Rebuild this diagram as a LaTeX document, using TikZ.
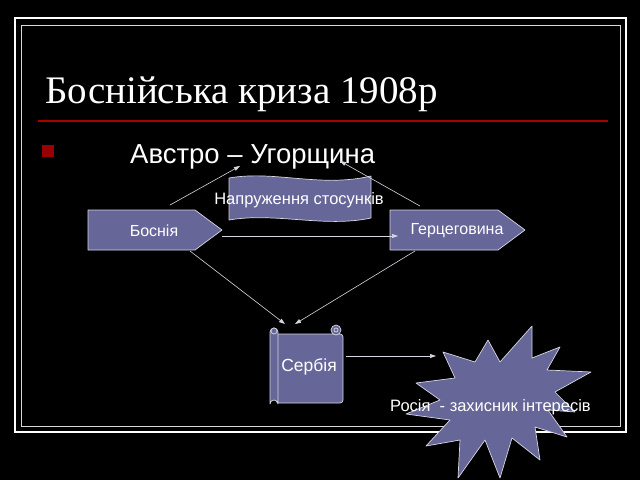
\documentclass[tikz,border=0pt]{standalone}
\usepackage{fontspec}
\setmainfont{Liberation Serif}
\newfontfamily\sansf{Liberation Sans}
\usetikzlibrary{arrows.meta}
\definecolor{shp}{RGB}{102,102,153}
\definecolor{edg}{RGB}{215,215,225}
\definecolor{redl}{RGB}{170,0,0}
\tikzset{
  box/.style={fill=shp,draw=edg,line width=0.7pt,line join=round},
  lbl/.style={text=white,font=\sansf\fontsize{16}{18}\selectfont,inner sep=0pt},
  conn/.style={draw=edg,line width=0.6pt,-{Triangle[length=6pt,width=4pt]}}
}
\begin{document}
\begin{tikzpicture}[x=1pt,y=-1pt]
\fill[black] (0,0) rectangle (640,480);
\useasboundingbox (0,0) rectangle (640,480);
% frame
\draw[white,line width=2pt] (15,18) rectangle (626,432);
\draw[white!85!black,line width=0.8pt] (21,25) rectangle (620,426);
% title
\node[anchor=base west,text=white,font=\fontsize{39}{42}\selectfont,inner sep=0pt] (title) at (45,103) {Боснійська криза 1908р};
\draw[redl,line width=1.2pt] (38,121) -- (608,121);
\fill[red!60!black] (42,145) rectangle (54,157);
\node[anchor=base west,text=white,font=\sansf\fontsize{27.5}{30}\selectfont,inner sep=0pt] (aus) at (130,163) {Австро – Угорщина};
% banner
\draw[box] (229,178) .. controls (275,170) and (320,188) .. (371,176) -- (371,218) .. controls (325,228) and (275,212) .. (229,220) -- cycle;
\node[lbl,font=\sansf\fontsize{16.5}{18}\selectfont] (nap) at (299,200) {Напруження стосунків};
% Боснія
\draw[box] (88,210) -- (195,210) -- (222,230) -- (195,250) -- (88,250) -- cycle;
\node[lbl] (bos) at (154,231) {Боснія};
% Герцеговина
\draw[box] (390,210) -- (498,210) -- (525,230) -- (498,250) -- (390,250) -- cycle;
\node[lbl] (her) at (457,231) {Герцеговина};
% Сербія scroll
\draw[box,rounded corners=3pt] (276,334) rectangle (343,403);
\draw[box] (270,332) arc (180:360:4) -- (278,404) arc (0:-180:4) -- cycle;
\draw[box] (274,331) circle (3);
\draw[box] (336,330) circle (5);
\draw[box] (336,330) circle (2);
\node[lbl,font=\sansf\fontsize{17.5}{19}\selectfont] (ser) at (309,367) {Сербія};
% star
\draw[box] (532,326) -- (532,358) -- (560,347) -- (547,370) -- (591,372) -- (555,392)
  -- (575,412) -- (548,410) -- (567,437) -- (535,427) -- (540,460) -- (512,438)
  -- (500,478) -- (485,440) -- (458,478) -- (460,440) -- (426,446) -- (450,420)
  -- (406,414) -- (440,400) -- (416,383) -- (455,378) -- (443,352) -- (475,362)
  -- (488,340) -- (500,362) -- cycle;
\node[lbl,font=\sansf\fontsize{16.5}{18}\selectfont,anchor=base west] (ros) at (390,411) {Росія \ - захисник інтересів};
% connectors
\coordinate (a1) at (170,205); \coordinate (a2) at (240,166);
\coordinate (b1) at (420,206); \coordinate (b2) at (340,161);
\coordinate (c1) at (222,236); \coordinate (c2) at (398,236);
\coordinate (d1) at (190,251); \coordinate (d2) at (285,324);
\coordinate (e1) at (415,251); \coordinate (e2) at (295,324);
\coordinate (f1) at (346,356); \coordinate (f2) at (436,356);
\draw[conn] (a1) -- (a2);
\draw[conn] (b1) -- (b2);
\draw[conn] (c1) -- (c2);
\draw[conn] (d1) -- (d2);
\draw[conn] (e1) -- (e2);
\draw[conn] (f1) -- (f2);
\end{tikzpicture}
\end{document}
